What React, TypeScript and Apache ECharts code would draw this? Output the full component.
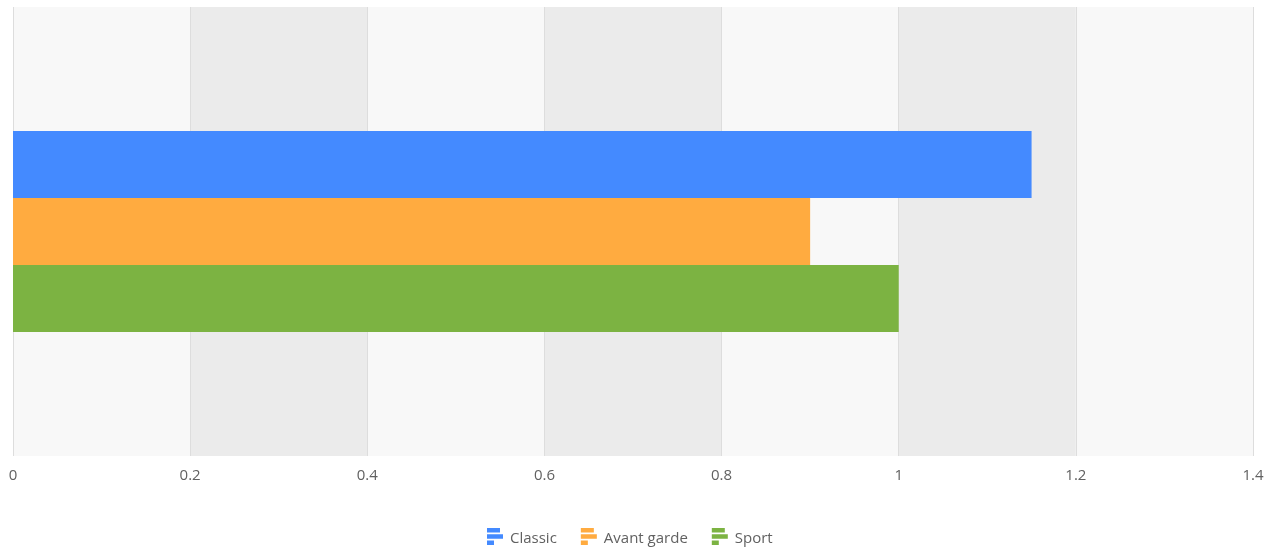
import React, { useEffect, useRef } from "react";
import * as echarts from "echarts";

const categories = [""];
const seriesNames = ["Classic", "Avant garde", "Sport"];
const classicValues = [1.15];
const avantGardeValues = [0.9];
const sportValues = [1.0];
const colors = ["#448aff", "#ffab40", "#7cb342"];

const ICON = "path://M0,0H13V4.5H0Z M0,6.25H16V10.75H0Z M0,12.5H7V17H0Z";

export default function App() {
  const ref = useRef<HTMLDivElement>(null);
  useEffect(() => {
    const chart = echarts.init(ref.current!, undefined, { renderer: "svg" });
    const values = [classicValues, avantGardeValues, sportValues];
    chart.setOption({
      animation: false,
      textStyle: { fontFamily: "Open Sans" },
      grid: { left: 13, right: 25, top: 7, bottom: 94, containLabel: false },
      legend: {
        bottom: 5,
        left: 487,
        padding: 0,
        icon: ICON,
        itemWidth: 16,
        itemHeight: 17,
        itemGap: 24,
        textStyle: {
          color: "#616161",
          fontSize: 15,
          fontFamily: "Open Sans",
          padding: [0, 0, 0, 2],
        },
        data: seriesNames,
      },
      xAxis: {
        type: "value",
        min: 0,
        max: 1.4,
        interval: 0.2,
        axisLine: { show: false },
        axisTick: { show: false },
        axisLabel: { color: "#616161", fontSize: 15, margin: 10, fontFamily: "Open Sans" },
        splitLine: { show: true, lineStyle: { color: "#dddddd", width: 1 } },
        splitArea: { show: true, areaStyle: { color: ["#f8f8f8", "#ebebeb"] } },
      },
      yAxis: {
        type: "category",
        data: categories,
        axisLine: { show: false },
        axisTick: { show: false },
        axisLabel: { show: false },
        splitLine: { show: false },
      },
      series: seriesNames.map((name, i) => ({
        name,
        type: "bar",
        data: values[i],
        itemStyle: { color: colors[i] },
        barGap: "0%",
        barCategoryGap: "55.2%",
      })),
    });
    return () => chart.dispose();
  }, []);
  return (
    <div
      ref={ref}
      style={{ position: "fixed", left: 0, top: 0, width: 1278, height: 550 }}
    />
  );
}
